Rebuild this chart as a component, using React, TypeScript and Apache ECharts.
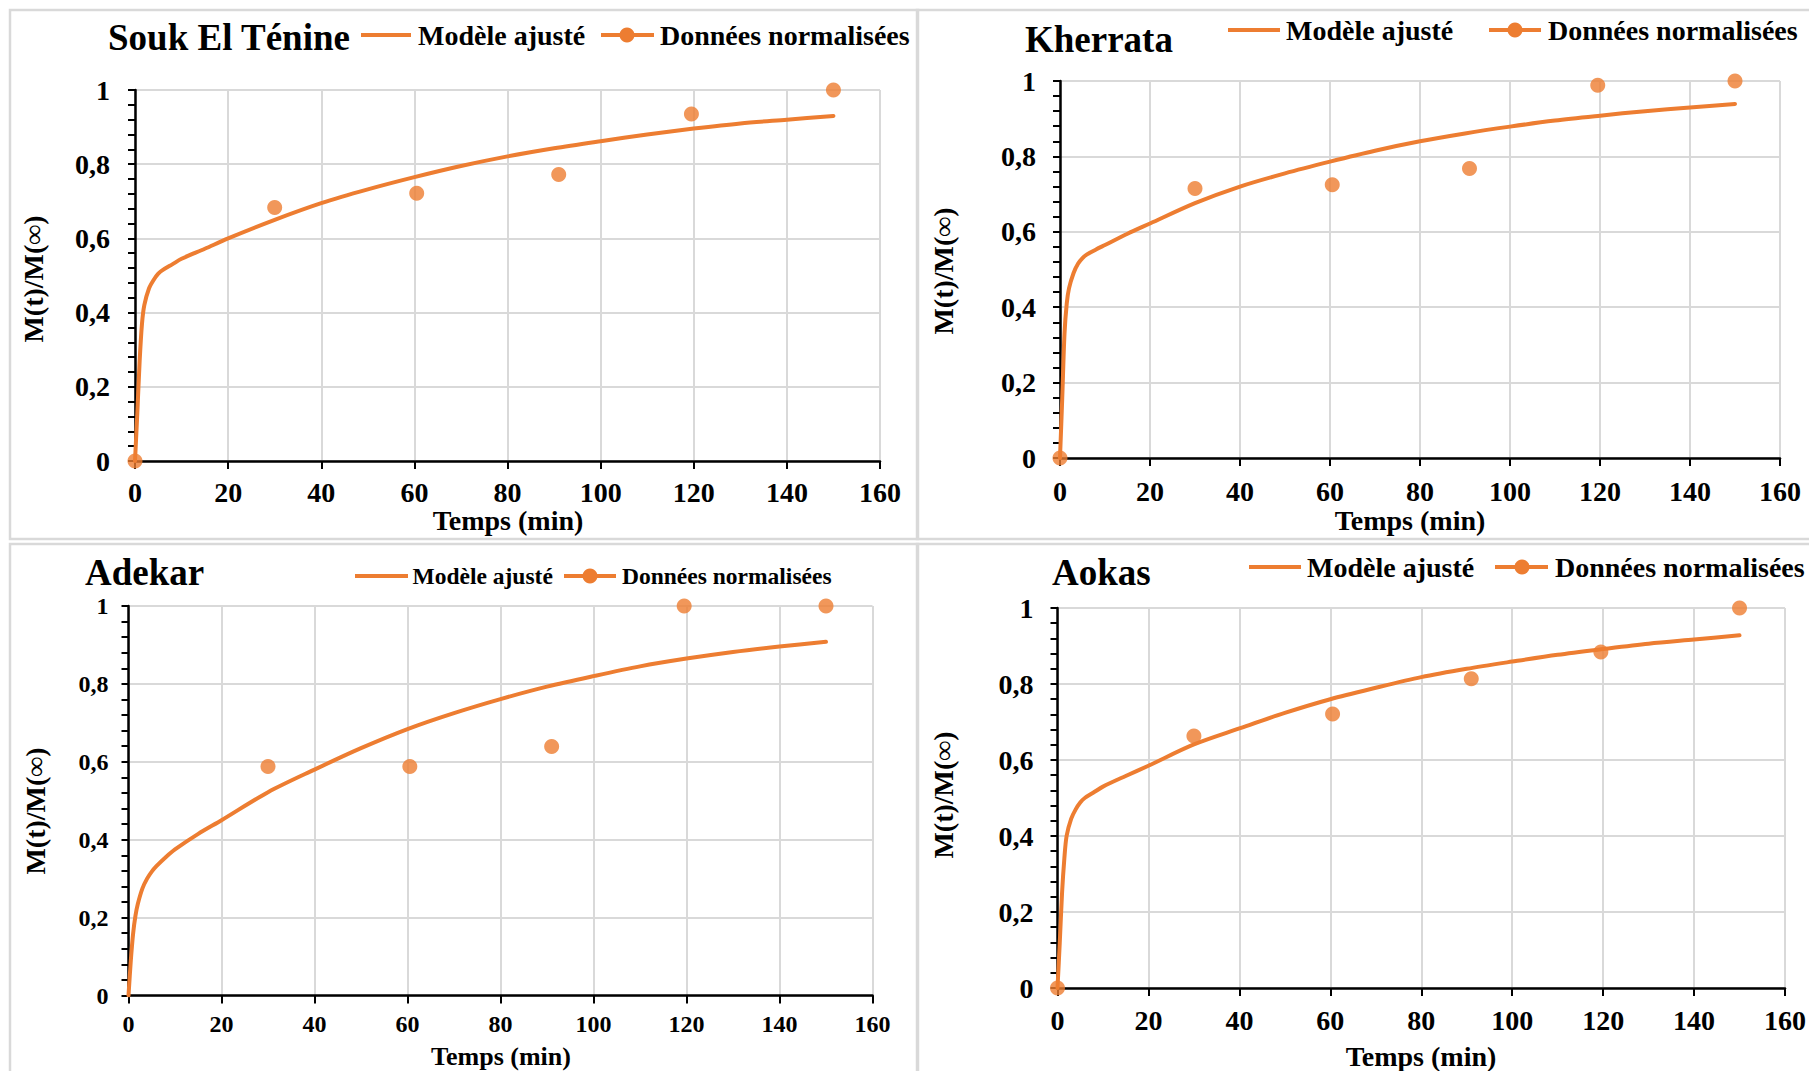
import React, { useEffect, useRef } from "react";
import * as echarts from "echarts";

// ---- data ----
const panelTitles = ["Souk El Ténine", "Kherrata", "Adekar", "Aokas"];
const legendNames = ["Modèle ajusté", "Données normalisées"];
const xAxisName = "Temps (min)";
const yAxisName = "M(t)/M(∞)";

const modelTimes = [0, 0.5, 1, 1.5, 2, 3, 4, 5, 6, 8, 10, 15, 20, 30, 40, 50, 60, 70, 80, 90, 100, 110, 120, 130, 140, 150];
const soukModel = [0, 0.13, 0.27, 0.37, 0.42, 0.465, 0.488, 0.505, 0.515, 0.53, 0.545, 0.572, 0.6, 0.65, 0.695, 0.732, 0.765, 0.795, 0.821, 0.843, 0.862, 0.88, 0.896, 0.91, 0.92, 0.93];
const kherrataModel = [0, 0.16, 0.33, 0.41, 0.45, 0.49, 0.515, 0.53, 0.54, 0.553, 0.565, 0.595, 0.622, 0.676, 0.72, 0.755, 0.786, 0.815, 0.84, 0.861, 0.879, 0.895, 0.908, 0.92, 0.93, 0.939];
const adekarModel = [0, 0.09, 0.16, 0.205, 0.235, 0.275, 0.3, 0.318, 0.332, 0.355, 0.375, 0.415, 0.45, 0.522, 0.58, 0.635, 0.684, 0.725, 0.761, 0.793, 0.82, 0.845, 0.865, 0.882, 0.896, 0.908];
const aokasModel = [0, 0.12, 0.25, 0.34, 0.4, 0.445, 0.47, 0.488, 0.5, 0.515, 0.53, 0.558, 0.585, 0.641, 0.683, 0.724, 0.76, 0.79, 0.818, 0.84, 0.859, 0.877, 0.892, 0.906, 0.917, 0.928];

const pointTimes = [0, 30, 60.5, 91, 119.5, 150];
const soukPoints = [0, 0.683, 0.722, 0.772, 0.935, 1.0];
const kherrataPoints = [0, 0.715, 0.725, 0.768, 0.989, 1.0];
const adekarPoints = [null, 0.588, 0.588, 0.639, 1.0, 1.0];
const aokasPoints = [0, 0.663, 0.721, 0.814, 0.884, 1.0];

const xTicks = { min: 0, max: 160, interval: 20 };
const yTicks = { min: 0, max: 1, interval: 0.2 };

const models = [soukModel, kherrataModel, adekarModel, aokasModel];
const points = [soukPoints, kherrataPoints, adekarPoints, aokasPoints];

// ---- layout / style ----
const ORANGE = "#ED7D31";
const GRIDC = "#d9d9d9";
const FONT = "'Liberation Serif', 'Times New Roman', serif";

const grids = [
  { left: 135, top: 90, width: 745, height: 371 },
  { left: 1060, top: 81, width: 720, height: 377 },
  { left: 128.5, top: 606, width: 744, height: 389.5 },
  { left: 1057.5, top: 608, width: 728, height: 380 },
];
const tickFont = [28, 28, 24, 28];
const xLabelMargin = [17, 19, 16, 18];
const yLabelMargin = [25, 24, 20, 24];

const titlePos = [
  { x: 108, y: 37 },
  { x: 1025, y: 39 },
  { x: 85, y: 572 },
  { x: 1052, y: 572 },
];
const legendLayout = [
  { y: 35, font: 28, l1: [361, 411], t1: 418, l2: [601, 654], c: 627, t2: 660 },
  { y: 30, font: 28, l1: [1228, 1280], t1: 1286, l2: [1489, 1541], c: 1515, t2: 1548 },
  { y: 576, font: 23.5, l1: [355, 408], t1: 412.5, l2: [564, 616], c: 590, t2: 622 },
  { y: 567, font: 28, l1: [1249, 1301], t1: 1307, l2: [1495, 1548], c: 1522, t2: 1555 },
];
const yNamePos = [
  { x: 33, y: 279 },
  { x: 943, y: 271 },
  { x: 35, y: 811 },
  { x: 943, y: 795 },
];
const xNamePos = [
  { x: 508, y: 520, font: 28 },
  { x: 1410, y: 520, font: 28 },
  { x: 501, y: 1056, font: 26 },
  { x: 1421, y: 1056, font: 28 },
];
const panelRects = [
  { x: 10, y: 10, w: 908, h: 529 },
  { x: 917, y: 10, w: 900, h: 529 },
  { x: 10, y: 544, w: 908, h: 600 },
  { x: 917, y: 544, w: 900, h: 600 },
];

const fmt = (v: number) => String(Math.round(v * 10) / 10).replace(".", ",");

function buildOption() {
  const grid = grids.map((g) => ({ ...g, containLabel: false }));
  const xAxis = grids.map((_, i) => ({
    type: "value",
    gridIndex: i,
    min: xTicks.min,
    max: xTicks.max,
    interval: xTicks.interval,
    axisLine: { show: true, onZero: false, lineStyle: { color: "#000", width: 2.5 } },
    axisTick: { show: true, inside: false, length: 8, lineStyle: { color: "#000", width: 2 } },
    axisLabel: { color: "#000", fontFamily: FONT, fontWeight: "bold", fontSize: tickFont[i], margin: xLabelMargin[i] },
    splitLine: { show: true, lineStyle: { color: GRIDC, width: 2 } },
  }));
  const yAxis = grids.map((_, i) => ({
    type: "value",
    gridIndex: i,
    min: yTicks.min,
    max: yTicks.max,
    interval: yTicks.interval,
    axisLine: { show: true, onZero: false, lineStyle: { color: "#000", width: 2.5 } },
    axisTick: { show: true, inside: false, length: 7, lineStyle: { color: "#000", width: 2 } },
    minorTick: { show: true, splitNumber: 5, length: 7, lineStyle: { color: "#000", width: 2 } },
    axisLabel: {
      color: "#000",
      fontFamily: FONT,
      fontWeight: "bold",
      fontSize: tickFont[i],
      margin: yLabelMargin[i],
      formatter: (v: number) => fmt(v),
    },
    splitLine: { show: true, lineStyle: { color: GRIDC, width: 2 } },
  }));
  const series: any[] = [];
  for (let i = 0; i < 4; i++) {
    series.push({
      name: legendNames[0],
      type: "line",
      xAxisIndex: i,
      yAxisIndex: i,
      data: modelTimes.map((t, k) => [t, models[i][k]]),
      showSymbol: false,
      symbol: "none",
      smooth: 0.3,
      lineStyle: { color: ORANGE, width: 4, join: "round", cap: "round" },
      z: 3,
    });
    series.push({
      name: legendNames[1],
      type: "scatter",
      xAxisIndex: i,
      yAxisIndex: i,
      data: pointTimes
        .map((t, k) => [t, points[i][k]])
        .filter((p) => p[1] !== null),
      symbol: "circle",
      symbolSize: 15,
      itemStyle: { color: ORANGE },
      clip: false,
      z: 4,
    });
  }

  const graphic: any[] = [];
  panelRects.forEach((r) => {
    graphic.push({
      type: "rect",
      shape: { x: r.x, y: r.y, width: r.w, height: r.h },
      style: { fill: "none", stroke: GRIDC, lineWidth: 2.5 },
      silent: true,
      z: -1,
    });
  });
  for (let i = 0; i < 4; i++) {
    graphic.push({
      type: "text",
      x: titlePos[i].x,
      y: titlePos[i].y,
      style: {
        text: panelTitles[i],
        font: `bold 37px ${FONT}`,
        fill: "#000",
        align: "left",
        verticalAlign: "middle",
      },
    });
    const L = legendLayout[i];
    graphic.push({
      type: "line",
      shape: { x1: L.l1[0], y1: L.y, x2: L.l1[1], y2: L.y },
      style: { stroke: ORANGE, lineWidth: 4 },
    });
    graphic.push({
      type: "text",
      x: L.t1,
      y: L.y,
      style: { text: legendNames[0], font: `bold ${L.font}px ${FONT}`, fill: "#000", align: "left", verticalAlign: "middle" },
    });
    graphic.push({
      type: "line",
      shape: { x1: L.l2[0], y1: L.y, x2: L.l2[1], y2: L.y },
      style: { stroke: ORANGE, lineWidth: 4 },
    });
    graphic.push({
      type: "circle",
      shape: { cx: L.c, cy: L.y, r: 7.5 },
      style: { fill: ORANGE },
    });
    graphic.push({
      type: "text",
      x: L.t2,
      y: L.y,
      style: { text: legendNames[1], font: `bold ${L.font}px ${FONT}`, fill: "#000", align: "left", verticalAlign: "middle" },
    });
    graphic.push({
      type: "text",
      x: yNamePos[i].x,
      y: yNamePos[i].y,
      rotation: Math.PI / 2,
      style: { text: yAxisName, font: `bold 28px ${FONT}`, fill: "#000", align: "center", verticalAlign: "middle" },
    });
    graphic.push({
      type: "text",
      x: xNamePos[i].x,
      y: xNamePos[i].y,
      style: {
        text: xAxisName,
        font: `bold ${xNamePos[i].font}px ${FONT}`,
        fill: "#000",
        align: "center",
        verticalAlign: "middle",
      },
    });
  }

  return {
    animation: false,
    backgroundColor: "#ffffff",
    grid,
    xAxis,
    yAxis,
    series,
    graphic,
  };
}

export default function App() {
  const ref = useRef<HTMLDivElement>(null);
  useEffect(() => {
    if (!ref.current) return;
    const chart = echarts.init(ref.current, undefined, { renderer: "svg" });
    chart.setOption(buildOption() as any);
    return () => chart.dispose();
  }, []);
  return (
    <div
      ref={ref}
      style={{ position: "fixed", left: 0, top: 0, width: 1809, height: 1071, background: "#fff" }}
    />
  );
}
